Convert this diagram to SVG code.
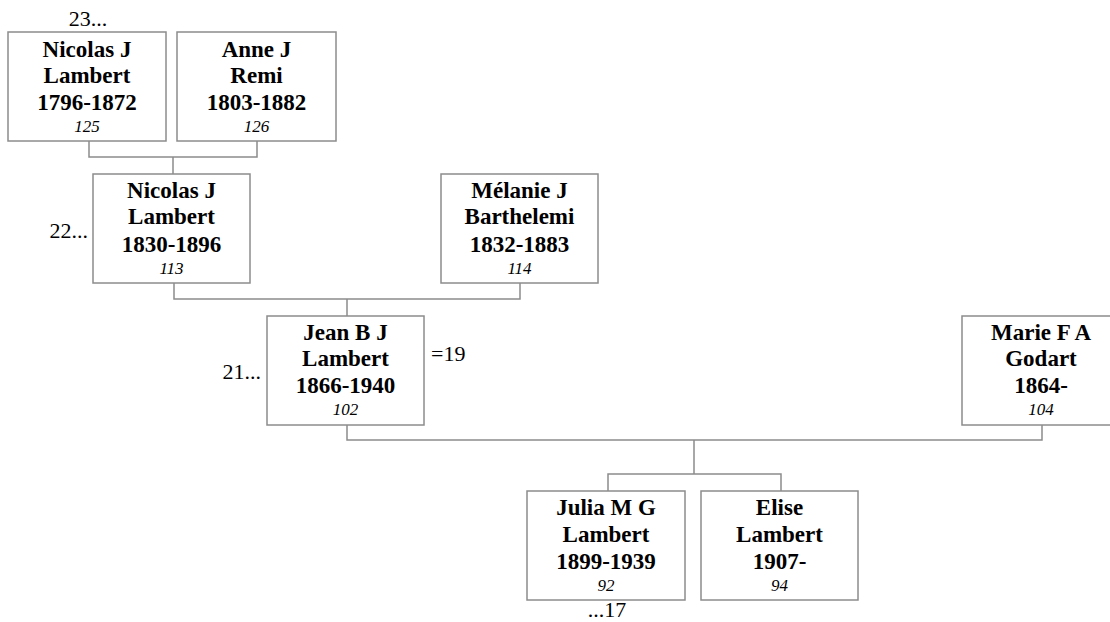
<svg xmlns="http://www.w3.org/2000/svg" width="1110" height="622" viewBox="0 0 1110 622">
<style>
.box{fill:#fff;stroke:#8c8c8c;stroke-width:1.5}
.con{fill:none;stroke:#8c8c8c;stroke-width:1.5}
.n{font-family:"Liberation Serif","Times New Roman",serif;font-weight:bold;font-size:23px;text-anchor:middle;fill:#000}
.i{font-family:"Liberation Serif","Times New Roman",serif;font-style:italic;font-size:17px;text-anchor:middle;fill:#000}
.l{font-family:"Liberation Serif","Times New Roman",serif;font-size:22px;fill:#000}
</style>
<rect width="1110" height="622" fill="#fff"/>
<g id="connectors">
<path class="con" d="M89 141V157H257V141M173 157V174"/>
<path class="con" d="M174 283V299H520V283M347 299V316"/>
<path class="con" d="M347 425V440H1042V425M694 440V474"/>
<path class="con" d="M608 491V474H781V491"/>
</g>
<g id="n125">
<rect class="box" x="8" y="32" width="158" height="109"/>
<text class="n" x="87" y="57">Nicolas J</text>
<text class="n" x="87" y="83">Lambert</text>
<text class="n" x="87" y="110">1796-1872</text>
<text class="i" x="87" y="132">125</text>
<text class="l" x="88" y="26" text-anchor="middle">23...</text>
</g>
<g id="n126">
<rect class="box" x="177" y="32" width="159" height="109"/>
<text class="n" x="256.5" y="57">Anne J</text>
<text class="n" x="256.5" y="83">Remi</text>
<text class="n" x="256.5" y="110">1803-1882</text>
<text class="i" x="256.5" y="132">126</text>
</g>
<g id="n113">
<rect class="box" x="93" y="174" width="157" height="109"/>
<text class="n" x="171.5" y="198">Nicolas J</text>
<text class="n" x="171.5" y="224">Lambert</text>
<text class="n" x="171.5" y="252">1830-1896</text>
<text class="i" x="171.5" y="274">113</text>
<text class="l" x="88" y="238" text-anchor="end">22...</text>
</g>
<g id="n114">
<rect class="box" x="441" y="174" width="157" height="109"/>
<text class="n" x="519.5" y="198">Mélanie J</text>
<text class="n" x="519.5" y="224">Barthelemi</text>
<text class="n" x="519.5" y="252">1832-1883</text>
<text class="i" x="519.5" y="274">114</text>
</g>
<g id="n102">
<rect class="box" x="267" y="316" width="157" height="109"/>
<text class="n" x="345.5" y="340">Jean B J</text>
<text class="n" x="345.5" y="366">Lambert</text>
<text class="n" x="345.5" y="393">1866-1940</text>
<text class="i" x="345.5" y="415">102</text>
<text class="l" x="261" y="379" text-anchor="end">21...</text>
<text class="l" x="431" y="361">=19</text>
</g>
<g id="n104">
<rect class="box" x="962" y="316" width="158" height="109"/>
<text class="n" x="1041" y="340">Marie F A</text>
<text class="n" x="1041" y="366">Godart</text>
<text class="n" x="1041" y="393">1864-</text>
<text class="i" x="1041" y="415">104</text>
</g>
<g id="n92">
<rect class="box" x="527" y="491" width="158" height="109"/>
<text class="n" x="606" y="515">Julia M G</text>
<text class="n" x="606" y="542">Lambert</text>
<text class="n" x="606" y="569">1899-1939</text>
<text class="i" x="606" y="591">92</text>
<text class="l" x="607" y="617" text-anchor="middle">...17</text>
</g>
<g id="n94">
<rect class="box" x="701" y="491" width="157" height="109"/>
<text class="n" x="779.5" y="515">Elise</text>
<text class="n" x="779.5" y="542">Lambert</text>
<text class="n" x="779.5" y="569">1907-</text>
<text class="i" x="779.5" y="591">94</text>
</g>
</svg>
